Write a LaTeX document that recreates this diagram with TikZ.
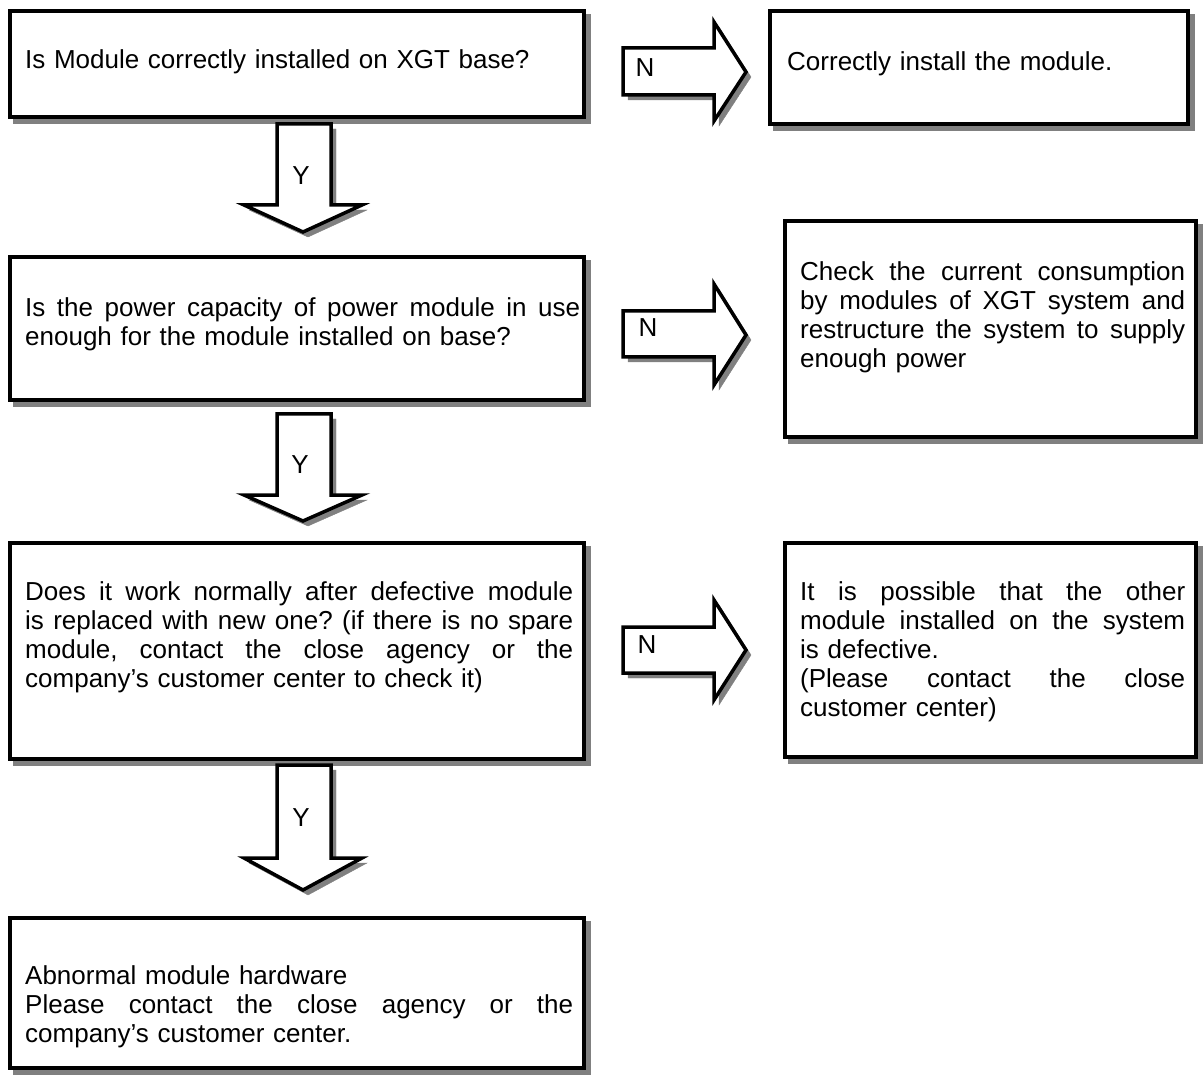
\documentclass[tikz,border=0pt]{standalone}
\usepackage{fontspec}
\setmainfont{Liberation Sans}
\frenchspacing
\definecolor{shadowc}{RGB}{128,128,128}
\newcommand\jl[2]{\leavevmode\hbox to #1{\spaceskip=.278em plus 1fil\relax #2}}
\begin{document}
\begin{tikzpicture}[x=1pt,y=-1pt,
  shad/.style={preaction={draw=shadowc, fill=shadowc, transform canvas={shift={(5pt,-5pt)}}}},
  box/.style={draw=black, line width=3.5pt, fill=white, rectangle, inner sep=0pt, shad},
  txt/.style={anchor=base west, inner sep=0pt, font=\fontsize{26pt}{29pt}\selectfont},
  lbl/.style={inner sep=0pt, font=\fontsize{26pt}{29pt}\selectfont},
  blockarrow/.style={draw=black, line width=3.5pt, fill=white, line join=miter, shad}]
\useasboundingbox (0,0) rectangle (1203,1075);

% boxes
\node[box, minimum width=574pt, minimum height=106pt] (b1) at (297,64) {};
\node[box, minimum width=418pt, minimum height=113pt] (b2) at (979,67.5) {};
\node[box, minimum width=574pt, minimum height=143pt] (b3) at (297,328.5) {};
\node[box, minimum width=411pt, minimum height=216pt] (b4) at (990.5,329) {};
\node[box, minimum width=574pt, minimum height=216pt] (b5) at (297,651) {};
\node[box, minimum width=411pt, minimum height=214pt] (b6) at (990.5,650) {};
\node[box, minimum width=574pt, minimum height=150pt] (b7) at (297,993) {};

% texts
\node[txt, text width=548pt] (t1) at (25,69) {Is Module correctly installed on XGT base?};
\node[txt, text width=385pt] (t2) at (787,71) {Correctly install the module.};
\node[txt, text width=556pt] (t3) at (25,317) {\jl{555pt}{Is the power capacity of power module in use}\\
  enough for the module installed on base?};
\node[txt, text width=386pt] (t4) at (800,281) {\jl{385pt}{Check the current consumption}\\
  \jl{385pt}{by modules of XGT system and}\\
  \jl{385pt}{restructure the system to supply}\\
  enough power};
\node[txt, text width=549pt] (t5) at (25,600) {\jl{548pt}{Does it work normally after defective module}\\
  \jl{548pt}{is replaced with new one? (if there is no spare}\\
  \jl{548pt}{module, contact the close agency or the}\\
  company’s customer center to check it)};
\node[txt, text width=386pt] (t6) at (800,600) {\jl{385pt}{It is possible that the other}\\
  \jl{385pt}{module installed on the system}\\
  is defective.\\
  \jl{385pt}{(Please contact the close}\\
  customer center)};
\node[txt, text width=549pt] (t7) at (25,984) {Abnormal module hardware\\
  \jl{548pt}{Please contact the close agency or the}\\
  company’s customer center.};

% N arrows
\draw[blockarrow] (623,48) -- (714,48) -- (714,22) -- (746,72) -- (714,121) -- (714,95) -- (623,95) -- cycle;
\draw[blockarrow] (623,311) -- (714,311) -- (714,284) -- (746,335) -- (714,385) -- (714,357) -- (623,357) -- cycle;
\draw[blockarrow] (623,627) -- (714,627) -- (714,600) -- (746,650) -- (714,700) -- (714,673) -- (623,673) -- cycle;
\node[lbl] (n1) at (645,68) {N};
\node[lbl] (n2) at (648,328) {N};
\node[lbl] (n3) at (647,645) {N};

% Y arrows
\draw[blockarrow] (277,124) -- (331,124) -- (331,205) -- (362,205) -- (303,232) -- (244,205) -- (277,205) -- cycle;
\draw[blockarrow] (277,414) -- (331,414) -- (331,495) -- (362,495) -- (303,521) -- (244,495) -- (277,495) -- cycle;
\draw[blockarrow] (277,765) -- (331,765) -- (331,858) -- (362,858) -- (303,890) -- (244,858) -- (277,858) -- cycle;
\node[lbl] (y1) at (301,176) {Y};
\node[lbl] (y2) at (300,465) {Y};
\node[lbl] (y3) at (301,818) {Y};
\end{tikzpicture}
\end{document}
